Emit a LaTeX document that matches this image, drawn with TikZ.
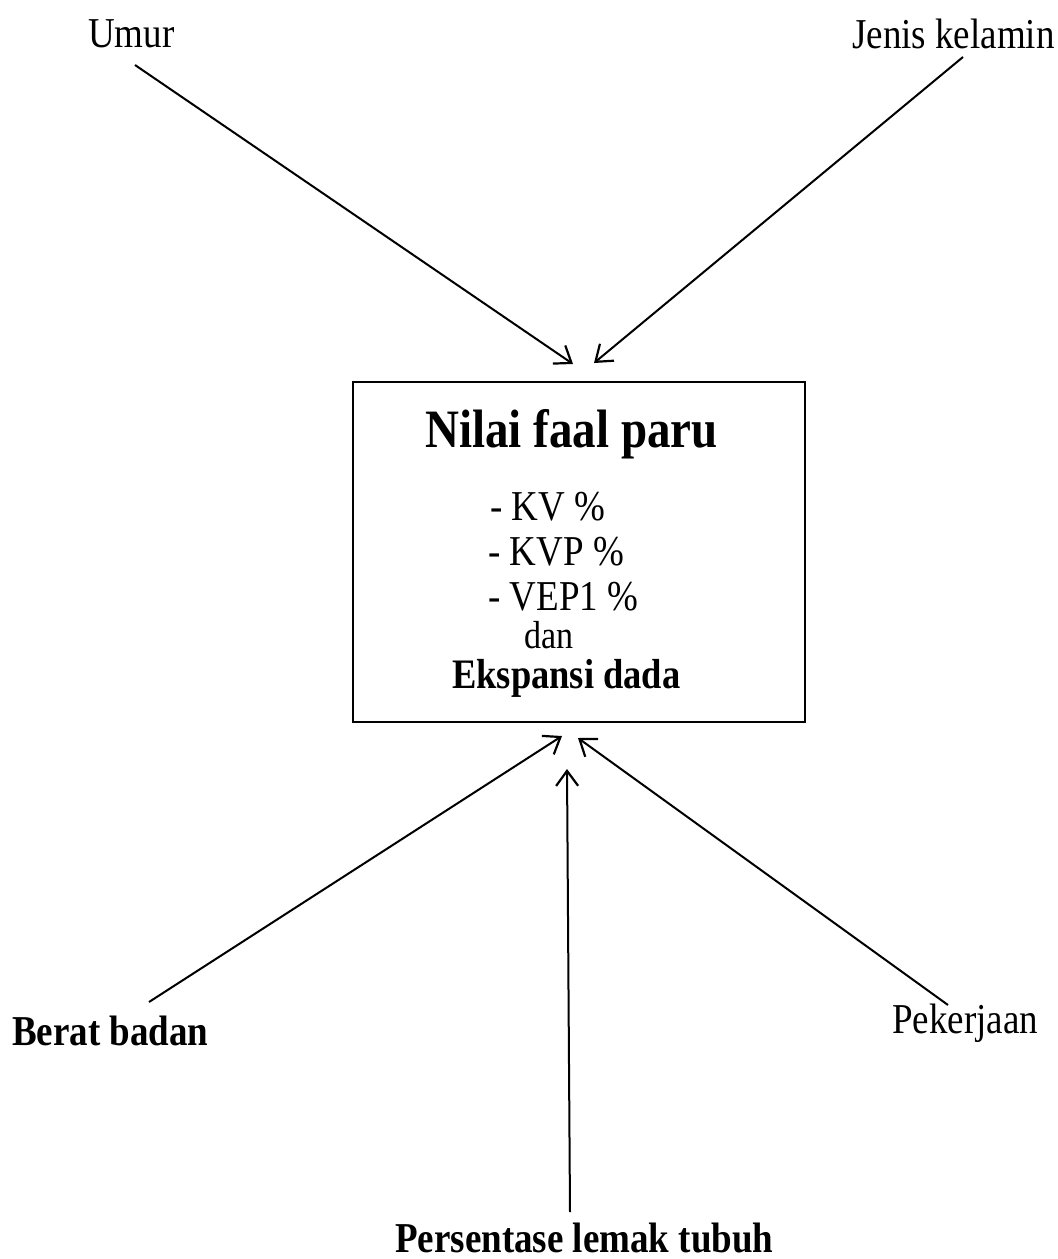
\documentclass[tikz,border=0pt]{standalone}
\usepackage{fontspec}
\setmainfont{Liberation Serif}
\usetikzlibrary{arrows.meta}
\newcommand{\tall}[1]{\scalebox{1}[1.15]{#1}}
\begin{document}
\begin{tikzpicture}[x=1pt,y=-1pt,
  lbl/.style={anchor=base west,inner sep=0pt,font=\fontsize{37}{44}\selectfont},
  blbl/.style={anchor=base west,inner sep=0pt,font=\fontsize{37}{44}\selectfont\bfseries},
  arr/.style={line width=2pt,-{Straight Barb[length=15pt,width=22pt,line width=2.2pt]}},
  boxst/.style={draw,line width=2pt,inner sep=0pt,minimum width=452pt,minimum height=340pt}]
\useasboundingbox (0,0) rectangle (1058,1259);
% labels
\node[lbl] (umur) at (88,47) {\tall{Umur}};
\node[lbl] (jenis) at (852,48) {\tall{Jenis kelamin}};
\node[blbl] (berat) at (12,1045) {\tall{Berat badan}};
\node[lbl] (pek) at (892,1033) {\tall{Pekerjaan}};
\node[blbl] (pers) at (395,1252) {\tall{Persentase lemak tubuh}};
% central box
\node[boxst] (box) at (579,552) {};
\node[anchor=base west,inner sep=0pt,font=\fontsize{47}{56}\selectfont\bfseries] (title) at (425,447) {\tall{Nilai faal paru}};
\node[lbl] (kv) at (490,520) {\tall{- KV \%}};
\node[lbl] (kvp) at (488,565) {\tall{- KVP \%}};
\node[lbl] (vep) at (488,610) {\tall{- VEP1 \%}};
\node[anchor=base west,inner sep=0pt,font=\fontsize{34}{40}\selectfont] (dan) at (524,648) {\tall{dan}};
\node[anchor=base west,inner sep=0pt,font=\fontsize{36.5}{44}\selectfont\bfseries] (eks) at (452,688) {\tall{Ekspansi dada}};
% connector ends
\coordinate (s1) at (135,65);  \coordinate (t1) at (573,364);
\coordinate (s2) at (963,57);  \coordinate (t2) at (594,363);
\coordinate (s3) at (149,1002); \coordinate (t3) at (562,736);
\coordinate (s4) at (570,1212); \coordinate (t4) at (567,769);
\coordinate (s5) at (948,1005); \coordinate (t5) at (578,738);
\draw[arr] (s1) -- (t1);
\draw[arr] (s2) -- (t2);
\draw[arr] (s3) -- (t3);
\draw[arr] (s4) -- (t4);
\draw[arr] (s5) -- (t5);
\end{tikzpicture}
\end{document}
